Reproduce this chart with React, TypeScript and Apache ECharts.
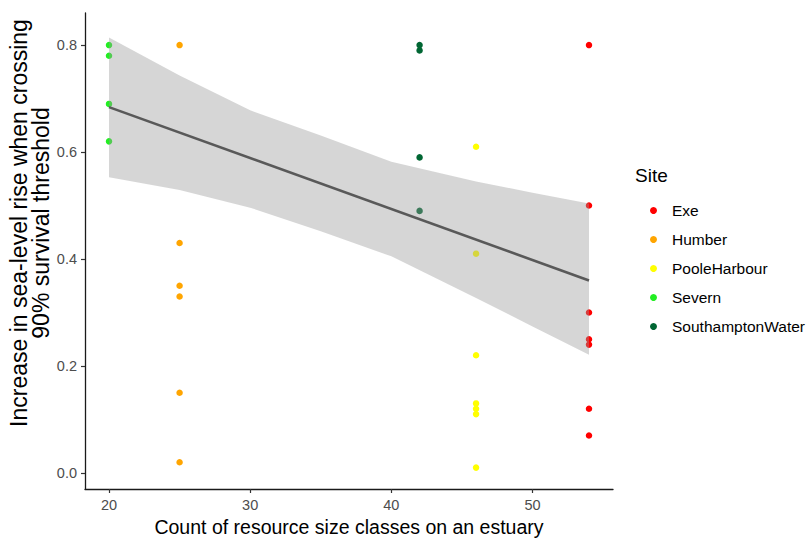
import React, { useEffect, useRef } from "react";
import * as echarts from "echarts";

const SITES = ["Exe", "Humber", "PooleHarbour", "Severn", "SouthamptonWater"];
const SITE_COLORS = ["#FF0000", "#FFA500", "#FFFF00", "#22EE22", "#006633"];
const SITE_X = [54, 25, 46, 20, 42];
const EXE_Y = [0.8, 0.5, 0.3, 0.25, 0.24, 0.12, 0.07];
const HUMBER_Y = [0.8, 0.43, 0.35, 0.33, 0.15, 0.02];
const POOLE_Y = [0.61, 0.41, 0.22, 0.13, 0.12, 0.11, 0.01];
const SEVERN_Y = [0.8, 0.78, 0.69, 0.62];
const SOTON_Y = [0.8, 0.79, 0.59, 0.49];
const SITE_Y = [EXE_Y, HUMBER_Y, POOLE_Y, SEVERN_Y, SOTON_Y];

const FIT_X = [20, 54];
const FIT_Y = [0.684, 0.36];

const BAND_X = [20, 25, 30, 35, 40, 46, 50, 54];
const BAND_UP = [0.814, 0.743, 0.678, 0.631, 0.582, 0.545, 0.524, 0.504];
const BAND_LO = [0.553, 0.529, 0.496, 0.452, 0.405, 0.327, 0.274, 0.221];

const X_TICKS = [20, 30, 40, 50];
const Y_TICKS = [0, 0.2, 0.4, 0.6, 0.8];

const X_TITLE = "Count of resource size classes on an estuary";
const Y_TITLE = "Increase in sea-level rise when crossing\n90% survival threshold";

const FONT = "Liberation Sans, Arial, sans-serif";

export default function App() {
  const ref = useRef<HTMLDivElement>(null);
  useEffect(() => {
    if (!ref.current) return;
    const chart = echarts.init(ref.current, undefined, { renderer: "svg" });

    const scatterSeries = SITES.map((name, i) => ({
      name,
      type: "scatter",
      z: 2,
      symbol: "circle",
      symbolSize: 6.5,
      itemStyle: { color: SITE_COLORS[i], opacity: 1 },
      data: SITE_Y[i].map((y) => [SITE_X[i], y]),
    }));

    const bandData = BAND_X.map((x, i) => [x, BAND_UP[i], BAND_LO[i]]);

    chart.setOption({
      animation: false,
      textStyle: { fontFamily: FONT },
      grid: { left: 85, right: 196, top: 13, bottom: 49, containLabel: false, outerBoundsMode: "none" },
      xAxis: {
        type: "value",
        min: 18.3,
        max: 55.7,
        splitLine: { show: false },
        axisLine: { show: true, onZero: false, lineStyle: { color: "#1a1a1a", width: 1.3 } },
        axisTick: { show: true, length: 4, customValues: X_TICKS, lineStyle: { color: "#333", width: 1.2 } },
        axisLabel: { customValues: X_TICKS, margin: 8, color: "#4d4d4d", fontSize: 14.5, fontFamily: FONT },
        name: X_TITLE,
        nameLocation: "middle",
        nameGap: 19,
        nameTextStyle: { color: "#000", fontSize: 19.5, fontFamily: FONT },
      },
      yAxis: {
        type: "value",
        min: -0.03,
        max: 0.86,
        splitLine: { show: false },
        axisLine: { show: true, onZero: false, lineStyle: { color: "#1a1a1a", width: 1.3 } },
        axisTick: { show: true, length: 4, customValues: Y_TICKS, lineStyle: { color: "#333", width: 1.2 } },
        axisLabel: {
          customValues: Y_TICKS,
          margin: 8,
          color: "#4d4d4d",
          fontSize: 14.5,
          fontFamily: FONT,
          formatter: (v: number) => v.toFixed(1),
        },
      },
      legend: {
        data: SITES,
        orient: "vertical",
        left: 645,
        top: 197.5,
        itemWidth: 7,
        itemHeight: 16,
        itemGap: 13,
        icon: "circle",
        textStyle: { color: "#000", fontSize: 15.5, lineHeight: 16, fontFamily: FONT, padding: [0, 0, 0, 10] },
        selectedMode: false,
      },
      graphic: [
        {
          type: "text",
          left: 635,
          top: 166,
          style: { text: "Site", fontSize: 19, fill: "#000", fontFamily: FONT },
        },
        {
          type: "text",
          x: 30,
          y: 223,
          rotation: Math.PI / 2,
          style: {
            text: Y_TITLE,
            fontSize: 23,
            lineHeight: 22,
            fill: "#000",
            fontFamily: FONT,
            align: "center",
            verticalAlign: "middle",
          },
        },
      ],
      series: [
        ...scatterSeries,
        {
          type: "custom",
          name: "band",
          z: 3,
          silent: true,
          data: bandData,
          encode: { x: 0, y: [1, 2] },
          renderItem: (params: any, api: any) => {
            if (params.dataIndex !== 0) return null;
            const upper = BAND_X.map((x, i) => api.coord([x, BAND_UP[i]]));
            const lower = BAND_X.map((x, i) => api.coord([x, BAND_LO[i]])).reverse();
            return {
              type: "polygon",
              shape: { points: upper.concat(lower) },
              style: { fill: "rgba(153,153,153,0.4)", stroke: "none" },
            };
          },
        },
        {
          type: "line",
          name: "fit",
          z: 4,
          silent: true,
          symbol: "none",
          data: FIT_X.map((x, i) => [x, FIT_Y[i]]),
          lineStyle: { color: "#595959", width: 2.6 },
        },
      ],
    });
    return () => chart.dispose();
  }, []);
  return (
    <div
      ref={ref}
      style={{ position: "absolute", left: 0, top: 0, width: 809, height: 538, background: "#fff" }}
    />
  );
}
